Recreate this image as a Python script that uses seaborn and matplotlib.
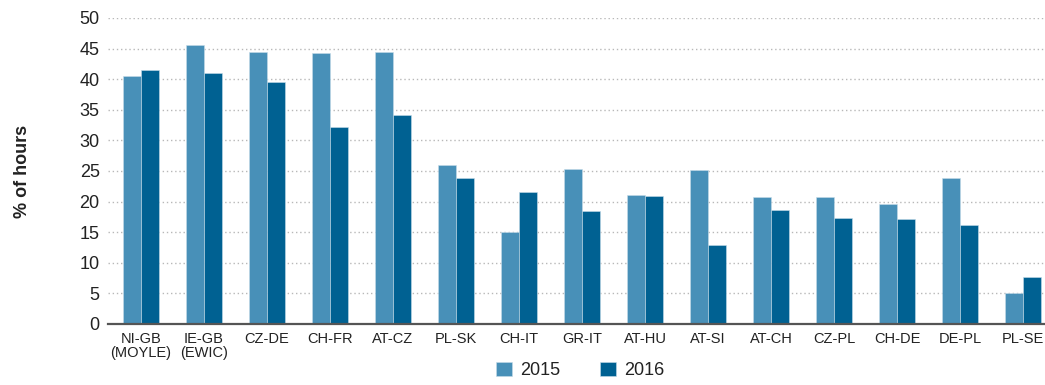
import matplotlib
matplotlib.use("Agg")
import matplotlib.pyplot as plt
import seaborn as sns
import pandas as pd

# Share of hours per border, by year
borders = ["NI-GB\n(MOYLE)", "IE-GB\n(EWIC)", "CZ-DE", "CH-FR", "AT-CZ", "PL-SK", "CH-IT",
           "GR-IT", "AT-HU", "AT-SI", "AT-CH", "CZ-PL", "CH-DE", "DE-PL", "PL-SE"]
values_2015 = [40.6, 45.6, 44.4, 44.2, 44.4, 26.0, 15.1, 25.3, 21.1, 25.2, 20.7, 20.7, 19.6, 23.9, 5.0]
values_2016 = [41.5, 41.0, 39.6, 32.2, 34.2, 23.9, 21.6, 18.5, 20.9, 12.9, 18.6, 17.4, 17.2, 16.1, 7.6]
years = ["2015", "2016"]
y_ticks = [0, 5, 10, 15, 20, 25, 30, 35, 40, 45, 50]

df = pd.DataFrame({
    "border": borders * 2,
    "year": [years[0]] * len(borders) + [years[1]] * len(borders),
    "share": values_2015 + values_2016,
})

sns.set_theme(style="white")
plt.rcParams["font.family"] = ["Liberation Sans", "DejaVu Sans"]

fig = plt.figure(figsize=(10.45, 3.85), dpi=100)
ax = fig.add_axes([108 / 1045, 1 - 324 / 385, 1 - 108 / 1045, 306 / 385])

palette = {"2015": "#4890b8", "2016": "#006192"}
sns.barplot(data=df, x="border", y="share", hue="year", hue_order=years,
            palette=palette, width=0.57, gap=0, ax=ax, saturation=1,
            edgecolor="#c6dce9", linewidth=0.4, zorder=3)

ax.set_xlim(-0.525, 14.35)
ax.set_ylim(0, 50)
ax.set_yticks(y_ticks)
ax.yaxis.grid(True, linestyle=(0, (1, 2)), color="#b8b8b8", linewidth=1.0, zorder=0)
ax.xaxis.grid(False)

for side in ["left", "right", "top"]:
    ax.spines[side].set_visible(False)
ax.spines["bottom"].set_color("#555555")
ax.spines["bottom"].set_linewidth(1.6)
ax.spines["bottom"].set_zorder(4)

ax.tick_params(axis="y", length=0, pad=6, labelsize=13, labelcolor="#222222")
ax.tick_params(axis="x", length=0, pad=6, labelsize=10.5, labelcolor="#222222")
for lbl in ax.get_xticklabels():
    lbl.set_linespacing(1.0)

ax.set_xlabel("")
ax.set_ylabel("% of hours", fontsize=13, fontweight="bold", color="#222222", labelpad=35)

sns.move_legend(ax, "center", bbox_to_anchor=(0.504, -0.152), ncol=2, frameon=False,
                title=None, fontsize=13, handlelength=0.9, handleheight=0.85,
                handletextpad=0.45, columnspacing=2.2)
for t in ax.get_legend().get_texts():
    t.set_color("#222222")

fig.savefig("out.png", dpi=100)
